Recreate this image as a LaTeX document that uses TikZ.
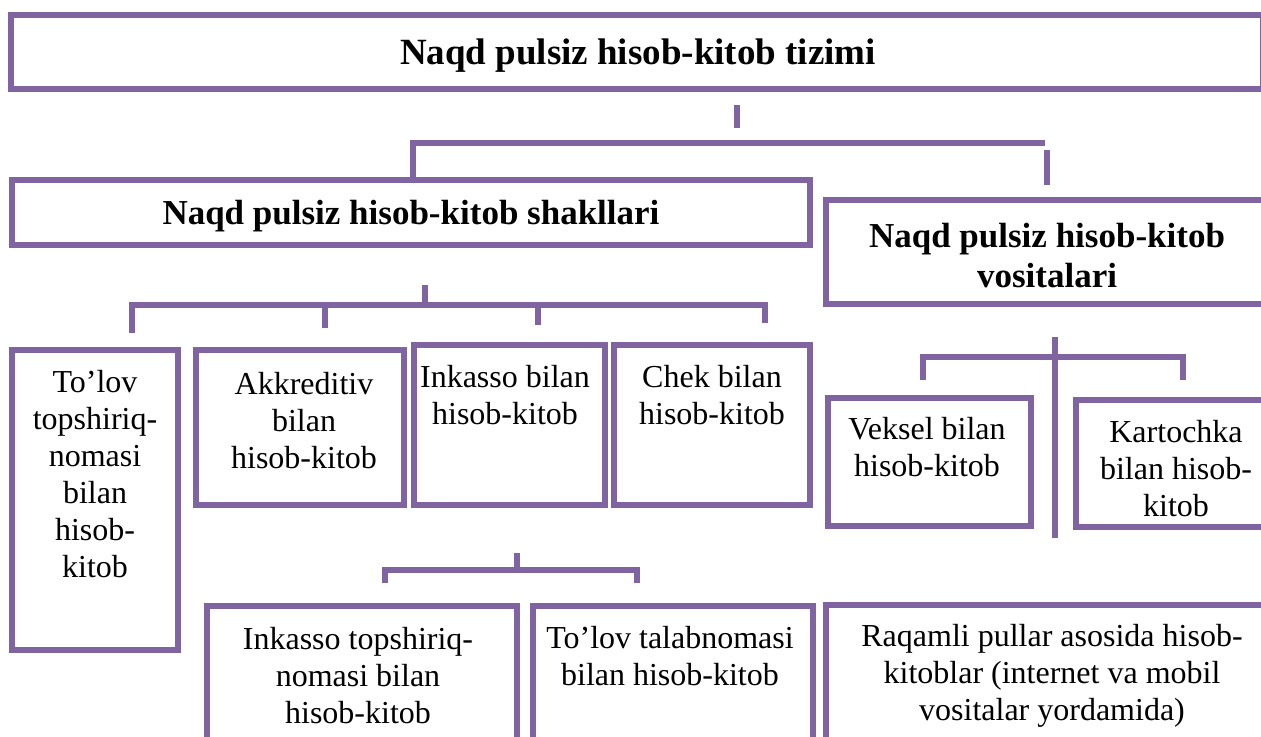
\documentclass[tikz,border=0pt]{standalone}
\usepackage{fontspec}
\setmainfont{Liberation Serif}
\usetikzlibrary{positioning}
\definecolor{lila}{RGB}{128,100,162}

\begin{document}
\begin{tikzpicture}[x=0.5pt,y=-0.5pt,
  box/.style={draw=lila, line width=3pt, inner sep=0pt, outer sep=0pt, anchor=north west},
  txt/.style={inner sep=0pt, anchor=north, align=center, font=\fontsize{16}{18.5}\selectfont},
  head/.style={inner sep=0pt, anchor=north, align=center, font=\fontsize{17.5}{20}\selectfont\bfseries},
  link/.style={draw=lila, line width=3pt}]

\useasboundingbox (0,0) rectangle (1261,736);
\clip (0,0) rectangle (1261,736);

% boxes
\node[box, minimum width=1252*0.5pt, minimum height=74*0.5pt] (tizim) at (11,15) {};
\node[box, minimum width=798*0.5pt, minimum height=65*0.5pt] (shakl) at (12,180) {};
\node[box, minimum width=444*0.5pt, minimum height=104*0.5pt] (vosita) at (826,200) {};

\node[box, minimum width=166*0.5pt, minimum height=300*0.5pt] (tolov) at (12,350) {};
\node[box, minimum width=208*0.5pt, minimum height=155*0.5pt] (akkr) at (196,350) {};
\node[box, minimum width=191*0.5pt, minimum height=160*0.5pt] (inkasso) at (414,345) {};
\node[box, minimum width=196*0.5pt, minimum height=160*0.5pt] (chek) at (614,345) {};

\node[box, minimum width=203*0.5pt, minimum height=128*0.5pt] (veksel) at (828,398) {};
\node[box, minimum width=194*0.5pt, minimum height=127*0.5pt] (karta) at (1076,400) {};

\node[box, minimum width=310*0.5pt, minimum height=154*0.5pt] (inktop) at (207,606) {};
\node[box, minimum width=280*0.5pt, minimum height=154*0.5pt] (talab) at (533,606) {};
\node[box, minimum width=444*0.5pt, minimum height=155*0.5pt] (raqam) at (826,605) {};

% texts
\node[head, font=\fontsize{18.5}{21}\selectfont\bfseries] (tizimT) at (638,38) {Naqd pulsiz hisob-kitob tizimi};
\node[head] (shaklT) at (411,200) {Naqd pulsiz hisob-kitob shakllari};
\node[head] (vositaT) at (1047,223) {Naqd pulsiz hisob-kitob\\vositalari};

\node[txt] (tolovT) at (95,370) {To’lov\\topshiriq-\\nomasi\\bilan\\hisob-\\kitob};
\node[txt] (akkrT) at (304,372) {Akkreditiv\\bilan\\hisob-kitob};
\node[txt] (inkassoT) at (505,365) {Inkasso bilan\\hisob-kitob};
\node[txt] (chekT) at (712,365) {Chek bilan\\hisob-kitob};

\node[txt] (vekselT) at (927,417) {Veksel bilan\\hisob-kitob};
\node[txt] (kartaT) at (1176,420) {Kartochka\\bilan hisob-\\kitob};

\node[txt] (inktopT) at (358,627) {Inkasso topshiriq-\\nomasi bilan\\hisob-kitob};
\node[txt] (talabT) at (670,626) {To’lov talabnomasi\\bilan hisob-kitob};
\node[txt] (raqamT) at (1052,624) {Raqamli pullar asosida hisob-\\kitoblar (internet va mobil\\vositalar yordamida)};

% connectors
\draw[link] (737,105) -- (737,128);
\draw[link] (413,178) -- (413,143) -- (1045,143);
\draw[link] (1047,150) -- (1047,185);

\draw[link] (425,285) -- (425,305);
\draw[link] (132,333) -- (132,305) -- (765,305) -- (765,323);
\draw[link] (325,305) -- (325,328);
\draw[link] (538,305) -- (538,325);

\draw[link] (517,553) -- (517,570);
\draw[link] (385,583) -- (385,570) -- (637,570) -- (637,583);

\draw[link] (1055,337) -- (1055,538);
\draw[link] (923,380) -- (923,357) -- (1183,357) -- (1183,380);

\end{tikzpicture}
\end{document}
